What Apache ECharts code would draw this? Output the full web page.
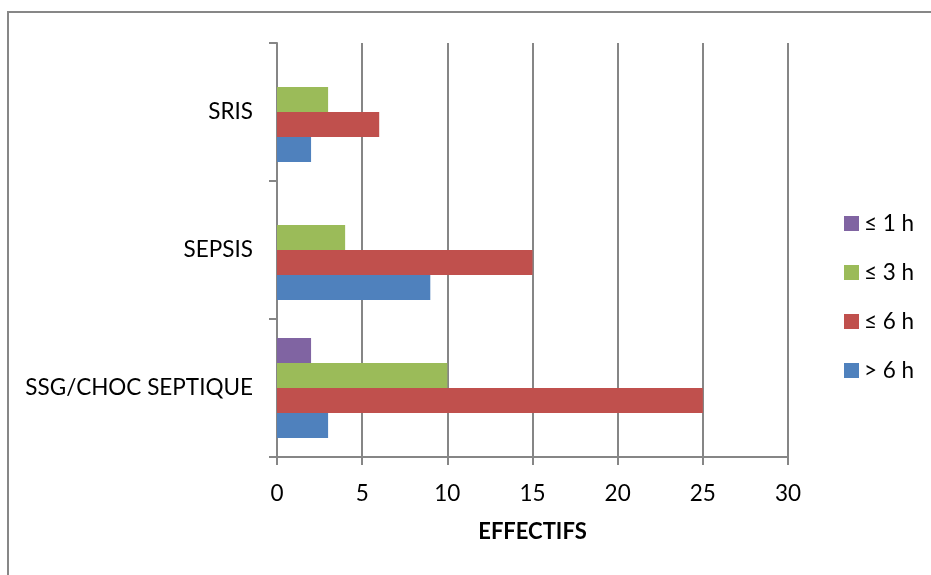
<!DOCTYPE html>
<html>
<head>
<meta charset="utf-8">
<script src="https://cdn.jsdelivr.net/npm/echarts@6/dist/echarts.min.js"></script>
<style>
html,body{margin:0;padding:0;background:#fff;}
#c{width:931px;height:575px;}
</style>
</head>
<body>
<div id="c"></div>
<script>
var categories = ['SSG/CHOC SEPTIQUE', 'SEPSIS', 'SRIS'];
var seriesNames = ['\u2264 1 h', '\u2264 3 h', '\u2264 6 h', '> 6 h'];
var le1h = [2, 0, 0];
var le3h = [10, 4, 3];
var le6h = [25, 15, 6];
var gt6h = [3, 9, 2];
var xTicks = [0, 5, 10, 15, 20, 25, 30];

var colors = ['#8064A2', '#9BBB59', '#C0504D', '#4F81BD'];
var values = [le1h, le3h, le6h, gt6h];
var FONT = 'Lato';
var gray = '#868686';

var chart = echarts.init(document.getElementById('c'));
var series = seriesNames.map(function (n, i) {
  return {
    name: n,
    type: 'bar',
    data: values[i],
    itemStyle: { color: colors[i] },
    barGap: '0%',
    barCategoryGap: '27.5%'
  };
});

chart.setOption({
  animation: false,
  textStyle: { fontFamily: FONT },
  graphic: [{
    type: 'rect',
    shape: { x: 8, y: 12, width: 1200, height: 1000 },
    style: { fill: 'none', stroke: '#878787', lineWidth: 2 },
    silent: true
  }],
  legend: {
    orient: 'vertical',
    left: 844,
    top: 212,
    padding: 0,
    itemWidth: 15,
    itemHeight: 15,
    itemGap: 26,
    itemTextGap: 6,
    icon: 'rect',
    data: seriesNames,
    textStyle: { fontFamily: FONT, fontSize: 22.5, color: '#000' }
  },
  grid: { left: 277, right: 143, top: 43, bottom: 118, containLabel: false },
  xAxis: {
    type: 'value',
    min: xTicks[0],
    max: xTicks[xTicks.length - 1],
    interval: 5,
    name: 'EFFECTIFS',
    nameLocation: 'middle',
    nameGap: 64,
    nameTextStyle: { fontFamily: FONT, fontSize: 22, fontWeight: 'bold', color: '#000' },
    axisLine: { show: true, lineStyle: { color: gray, width: 2 } },
    axisTick: { show: true, length: 8, lineStyle: { color: gray, width: 2 } },
    axisLabel: { fontFamily: FONT, fontSize: 22.5, color: '#000', margin: 25 },
    splitLine: { show: true, lineStyle: { color: gray, width: 2 } }
  },
  yAxis: {
    type: 'category',
    data: categories,
    axisLine: { show: true, lineStyle: { color: gray, width: 2 } },
    axisTick: { show: true, length: 8, lineStyle: { color: gray, width: 2 } },
    axisLabel: { fontFamily: FONT, fontSize: 22.5, color: '#000', margin: 24 },
    splitLine: { show: false }
  },
  series: series
});
</script>
</body>
</html>
